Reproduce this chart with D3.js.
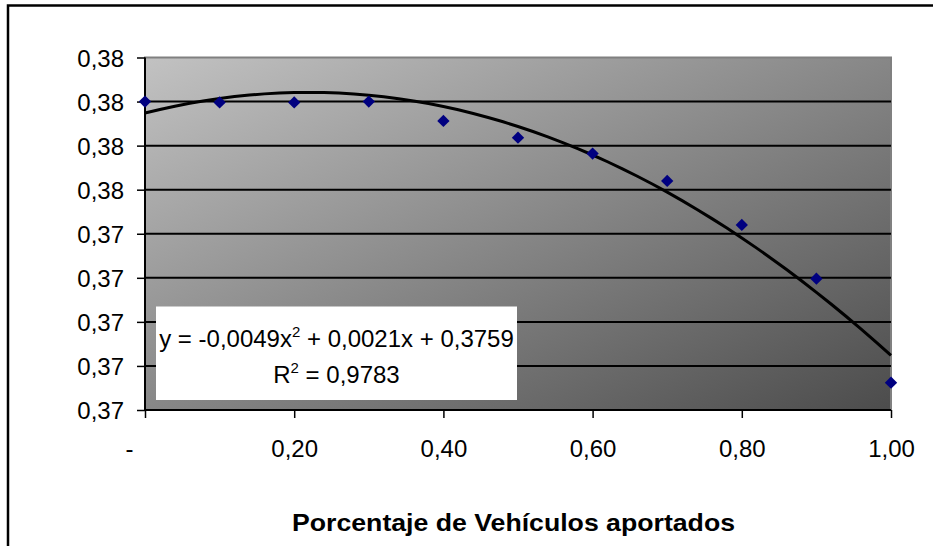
<!DOCTYPE html>
<html>
<head>
<meta charset="utf-8">
<script src="https://cdn.jsdelivr.net/npm/d3@7"></script>
<style>
  html, body { margin: 0; padding: 0; background: #fff; }
  svg { display: block; font-family: "Liberation Sans", Arial, sans-serif; }
</style>
</head>
<body>
<svg id="chart" width="933" height="546"></svg>
<script>
// ---- data ----
const xValues = [0, 0.1, 0.2, 0.3, 0.4, 0.5, 0.6, 0.7, 0.8, 0.9, 1.0];
const yValues = [0.3760, 0.37599, 0.37599, 0.37600, 0.37578, 0.37559, 0.37541, 0.37510, 0.37460, 0.37399, 0.37281];
const trendCoefficients = [0.37587, 0.00214, -0.00489]; // a + b x + c x^2 (as drawn)
const yTicks = [0.3725, 0.373, 0.3735, 0.374, 0.3745, 0.375, 0.3755, 0.376, 0.3765];
const yTickLabels = ["0,37", "0,37", "0,37", "0,37", "0,37", "0,38", "0,38", "0,38", "0,38"];
const xTicks = [0, 0.2, 0.4, 0.6, 0.8, 1.0];
const xTickLabels = ["-", "0,20", "0,40", "0,60", "0,80", "1,00"];
const xTitle = "Porcentaje de Vehículos aportados";
const eqLine1 = ["y = -0,0049x", "2", " + 0,0021x + 0,3759"];
const eqLine2 = ["R", "2", " = 0,9783"];

// ---- layout ----
const svg = d3.select("#chart");
const plot = { left: 145, top: 57.5, right: 891, bottom: 410 };

const x = d3.scaleLinear().domain([0, 1]).range([plot.left, plot.right]);
const y = d3.scaleLinear().domain([0.3725, 0.3765]).range([plot.bottom, plot.top]);

// outer chart border
svg.append("rect").attr("x", 8).attr("y", 5.5).attr("width", 940).attr("height", 560)
  .attr("fill", "#fff").attr("stroke", "#000").attr("stroke-width", 2.5);

// gradient
const defs = svg.append("defs");
const grad = defs.append("linearGradient").attr("id", "bg")
  .attr("x1", "0").attr("y1", "0").attr("x2", "1").attr("y2", "1");
grad.append("stop").attr("offset", "0%").attr("stop-color", "#c2c2c2");
grad.append("stop").attr("offset", "100%").attr("stop-color", "#4c4c4c");

svg.append("rect")
  .attr("x", plot.left).attr("y", plot.top)
  .attr("width", plot.right - plot.left).attr("height", plot.bottom - plot.top)
  .attr("fill", "url(#bg)").attr("stroke", "#808080").attr("stroke-width", 2);

// gridlines
svg.append("g").selectAll("line")
  .data(yTicks.filter(t => t > 0.3726 && t < 0.3764))
  .join("line")
  .attr("x1", plot.left).attr("x2", plot.right)
  .attr("y1", d => y(d)).attr("y2", d => y(d))
  .attr("stroke", "#000").attr("stroke-width", 2);

// y axis
const yAxis = d3.axisLeft(y).tickValues(yTicks).tickSize(8).tickPadding(13)
  .tickFormat((d, i) => yTickLabels[i]);
const gy = svg.append("g").attr("transform", `translate(${plot.left},0)`).call(yAxis);
gy.select(".domain").attr("stroke", "#000").attr("stroke-width", 2).attr("d", `M-0,${plot.bottom}V${plot.top}`);
gy.selectAll(".tick line").attr("stroke", "#000").attr("stroke-width", 1.5);
gy.selectAll(".tick text").attr("font-size", 24).attr("fill", "#000")
  .attr("font-family", "'Liberation Sans', Arial, sans-serif").attr("dy", "0.36em");

// x axis
const xAxis = d3.axisBottom(x).tickValues(xTicks).tickSize(8).tickPadding(22)
  .tickFormat((d, i) => xTickLabels[i]);
const gx = svg.append("g").attr("transform", `translate(0,${plot.bottom})`).call(xAxis);
gx.select(".domain").attr("stroke", "#000").attr("stroke-width", 2).attr("d", `M${plot.left},0H${plot.right}`);
gx.selectAll(".tick line").attr("stroke", "#000").attr("stroke-width", 1.5);
gx.selectAll(".tick text").attr("font-size", 24).attr("fill", "#000")
  .attr("font-family", "'Liberation Sans', Arial, sans-serif");
gx.selectAll(".tick").filter(d => d === 0).select("text").attr("dx", -16);

// trendline
const trendX = d3.range(0, 1.0001, 0.02);
const trendY = xv => trendCoefficients[0] + trendCoefficients[1] * xv + trendCoefficients[2] * xv * xv;
svg.append("path")
  .datum(trendX)
  .attr("fill", "none").attr("stroke", "#000").attr("stroke-width", 3)
  .attr("stroke-linejoin", "round")
  .attr("d", d3.line().x(d => x(d)).y(d => y(trendY(d))));

// points
const diamond = d3.symbol().type(d3.symbolSquare).size(76);
svg.append("g").selectAll("path")
  .data(xValues.map((xv, i) => [xv, yValues[i]]))
  .join("path")
  .attr("d", diamond)
  .attr("transform", d => `translate(${x(d[0])},${y(d[1])}) rotate(45)`)
  .attr("fill", "#000080");

// equation box
const box = { x: 156, y: 306.5, w: 361, h: 93.5 };
svg.append("rect").attr("x", box.x).attr("y", box.y).attr("width", box.w).attr("height", box.h)
  .attr("fill", "#fff");

function eqText(parts, cx, baseline) {
  const t = svg.append("text").attr("x", cx).attr("y", baseline)
    .attr("text-anchor", "middle").attr("font-size", 24).attr("fill", "#000");
  t.append("tspan").text(parts[0]);
  t.append("tspan").attr("font-size", 15).attr("dy", -10).text(parts[1]);
  t.append("tspan").attr("dy", 10).text(parts[2]);
}
eqText(eqLine1, box.x + box.w / 2, 346.5);
eqText(eqLine2, box.x + box.w / 2, 383);

// x title
svg.append("text")
  .attr("x", 513.5).attr("y", 531)
  .attr("text-anchor", "middle").attr("font-size", 24).attr("font-weight", "bold")
  .attr("textLength", 443).attr("lengthAdjust", "spacingAndGlyphs")
  .attr("fill", "#000").text(xTitle);
</script>
</body>
</html>
